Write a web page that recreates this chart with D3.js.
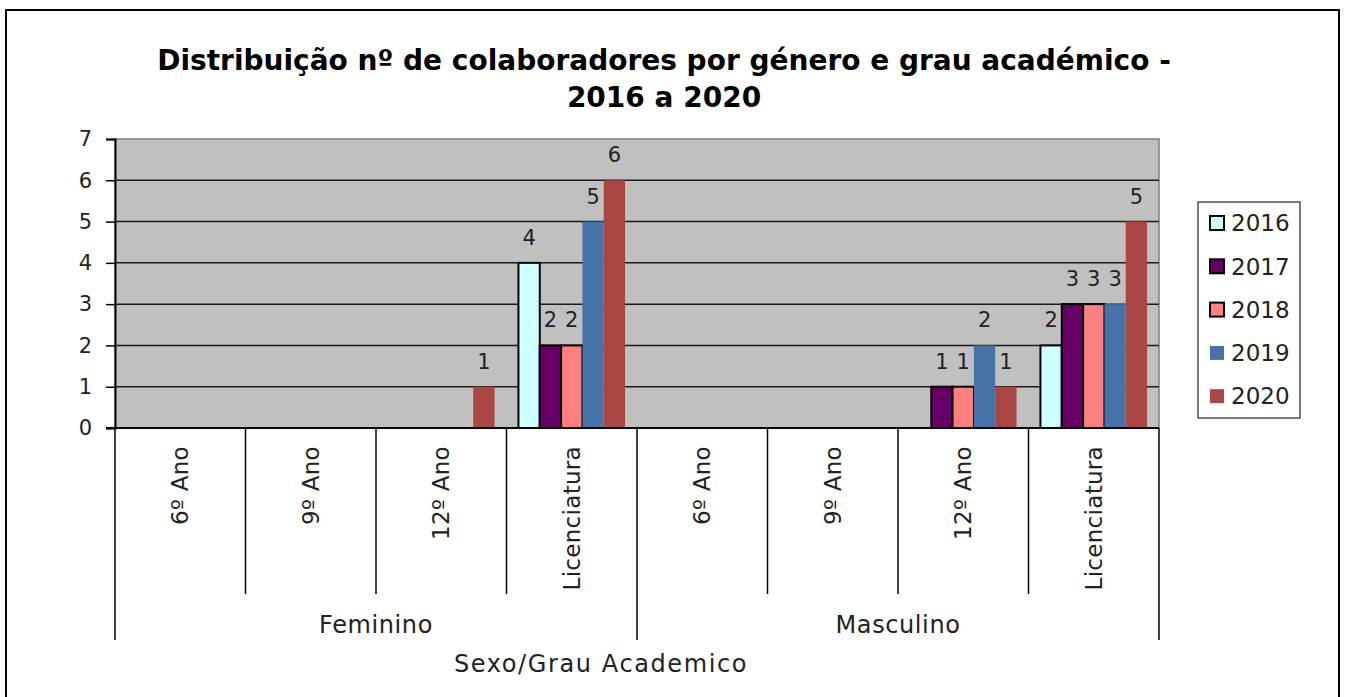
<!DOCTYPE html>
<html>
<head>
<meta charset="utf-8">
<script src="https://cdn.jsdelivr.net/npm/d3@7"></script>
<style>
  body { margin: 0; background: #fff; }
  svg { display: block; font-family: 'Century Gothic', 'DejaVu Sans', sans-serif; }
</style>
</head>
<body>
<div id="chart"></div>
<script>
// data
const grupos = ['Feminino', 'Masculino'];
const graus = ['6º Ano', '9º Ano', '12º Ano', 'Licenciatura'];
const anos = ['2016', '2017', '2018', '2019', '2020'];
const valores2016 = [0, 0, 0, 4, 0, 0, 0, 2];
const valores2017 = [0, 0, 0, 2, 0, 0, 1, 3];
const valores2018 = [0, 0, 0, 2, 0, 0, 1, 3];
const valores2019 = [0, 0, 0, 5, 0, 0, 2, 3];
const valores2020 = [0, 0, 1, 6, 0, 0, 1, 5];
const yTicks = [0, 1, 2, 3, 4, 5, 6, 7];
const cores = ['#ccffff', '#660066', '#ff8080', '#4572a7', '#aa4643'];
const comContorno = ['2016', '2017', '2018'];

function drawChart() {
  const series = [valores2016, valores2017, valores2018, valores2019, valores2020];
  const categorias = [];
  grupos.forEach((g) => graus.forEach((c) => categorias.push(g + '|' + c)));

  const dataset = [];
  categorias.forEach((cat, i) => {
    anos.forEach((ano, j) => {
      dataset.push({ cat: cat, ano: ano, valor: series[j][i] });
    });
  });

  const dimensions = {
    width: 1346,
    height: 697,
    plot: { left: 115, right: 1159, top: 139, bottom: 428 },
  };

  const xScale = d3
    .scaleBand()
    .domain(categorias)
    .range([dimensions.plot.left, dimensions.plot.right]);

  const xSub = d3
    .scaleBand()
    .domain(anos)
    .range([0, xScale.bandwidth()])
    .paddingInner(0)
    .paddingOuter(0.56);

  const yScale = d3
    .scaleLinear()
    .domain([0, 7])
    .range([dimensions.plot.bottom, dimensions.plot.top]);

  const color = d3.scaleOrdinal().domain(anos).range(cores);

  const wrapper = d3
    .select('#chart')
    .append('svg')
    .attr('width', dimensions.width)
    .attr('height', dimensions.height);

  // outer frame
  wrapper
    .append('rect')
    .attr('x', 6)
    .attr('y', 10)
    .attr('width', 1333)
    .attr('height', 700)
    .attr('fill', 'none')
    .attr('stroke', '#000')
    .attr('stroke-width', 2);

  // title
  const title = wrapper
    .append('text')
    .attr('text-anchor', 'middle')
    .style('font-size', '28px')
    .style('font-weight', 'bold');
  title.append('tspan').attr('x', 664).attr('y', 70)
    .text('Distribuição nº de colaboradores por género e grau académico -');
  title.append('tspan').attr('x', 664).attr('y', 107).text('2016 a 2020');

  // plot area
  wrapper
    .append('rect')
    .attr('x', dimensions.plot.left)
    .attr('y', dimensions.plot.top)
    .attr('width', dimensions.plot.right - dimensions.plot.left)
    .attr('height', dimensions.plot.bottom - dimensions.plot.top)
    .attr('fill', '#c0c0c0')
    .attr('stroke', '#808080')
    .attr('stroke-width', 1.5);

  // gridlines
  wrapper
    .append('g')
    .selectAll('line')
    .data(yTicks.filter((t) => t > 0 && t < 7))
    .join('line')
    .attr('x1', dimensions.plot.left)
    .attr('x2', dimensions.plot.right)
    .attr('y1', (d) => yScale(d))
    .attr('y2', (d) => yScale(d))
    .attr('stroke', '#1a1a1a')
    .attr('stroke-width', 1.5);

  // y axis
  const yAxisGenerator = d3
    .axisLeft(yScale)
    .tickValues(yTicks)
    .tickSize(9)
    .tickPadding(14)
    .tickFormat(d3.format('d'));
  const yAxis = wrapper
    .append('g')
    .attr('transform', `translate(${dimensions.plot.left},0)`)
    .call(yAxisGenerator);
  yAxis.select('.domain').attr('stroke', '#000').attr('stroke-width', 2);
  yAxis.selectAll('.tick line').attr('stroke', '#000').attr('stroke-width', 1.5);
  yAxis
    .selectAll('.tick text')
    .style('font-family', "'Century Gothic', 'DejaVu Sans', sans-serif")
    .style('font-size', '21px')
    .attr('fill', '#222');

  // bars
  const bars = wrapper.append('g');
  bars
    .selectAll('rect')
    .data(dataset.filter((d) => d.valor > 0))
    .join('rect')
    .attr('x', (d) => xScale(d.cat) + xSub(d.ano))
    .attr('y', (d) => yScale(d.valor))
    .attr('width', xSub.bandwidth())
    .attr('height', (d) => yScale(0) - yScale(d.valor))
    .attr('fill', (d) => color(d.ano))
    .attr('stroke', (d) => (comContorno.includes(d.ano) ? '#000' : 'none'))
    .attr('stroke-width', 2);

  // data labels
  wrapper
    .append('g')
    .selectAll('text')
    .data(dataset.filter((d) => d.valor > 0))
    .join('text')
    .attr('x', (d) => xScale(d.cat) + xSub(d.ano) + xSub.bandwidth() / 2)
    .attr('y', (d) => yScale(d.valor) - 18)
    .attr('text-anchor', 'middle')
    .style('font-size', '21px')
    .attr('fill', '#222')
    .text((d) => d.valor);

  // x axis line
  wrapper
    .append('line')
    .attr('x1', dimensions.plot.left - 9)
    .attr('x2', dimensions.plot.right)
    .attr('y1', yScale(0))
    .attr('y2', yScale(0))
    .attr('stroke', '#000')
    .attr('stroke-width', 2);

  // category separators
  const limites = categorias.map((c) => xScale(c)).concat([dimensions.plot.right]);
  wrapper
    .append('g')
    .selectAll('line')
    .data(limites)
    .join('line')
    .attr('x1', (d) => d)
    .attr('x2', (d) => d)
    .attr('y1', yScale(0))
    .attr('y2', (d, i) => (i % graus.length === 0 ? 640 : 594))
    .attr('stroke', '#000')
    .attr('stroke-width', 1.5);

  // category labels
  wrapper
    .append('g')
    .selectAll('text')
    .data(categorias)
    .join('text')
    .attr('transform', (d) => `translate(${xScale(d) + xScale.bandwidth() / 2},446) rotate(-90)`)
    .attr('dy', '0.35em')
    .attr('text-anchor', 'end')
    .style('font-size', '23px')
    .style('letter-spacing', '0.3px')
    .attr('fill', '#222')
    .text((d) => d.split('|')[1]);

  // group labels
  wrapper
    .append('g')
    .selectAll('text')
    .data(grupos)
    .join('text')
    .attr('x', (g) => {
      const first = xScale(g + '|' + graus[0]);
      const last = xScale(g + '|' + graus[graus.length - 1]) + xScale.bandwidth();
      return (first + last) / 2;
    })
    .attr('y', 633)
    .attr('text-anchor', 'middle')
    .style('font-size', '24px')
    .style('letter-spacing', '0.6px')
    .attr('fill', '#222')
    .text((g) => g);

  // axis title
  wrapper
    .append('text')
    .attr('x', 601)
    .attr('y', 672)
    .attr('text-anchor', 'middle')
    .style('font-size', '24px')
    .style('letter-spacing', '1.6px')
    .attr('fill', '#222')
    .text('Sexo/Grau Academico');

  // legend
  const legend = wrapper.append('g').attr('transform', 'translate(1198,202)');
  legend
    .append('rect')
    .attr('width', 102)
    .attr('height', 216)
    .attr('fill', '#fff')
    .attr('stroke', '#222')
    .attr('stroke-width', 1.2);
  const items = legend
    .selectAll('g')
    .data(anos)
    .join('g')
    .attr('transform', (d, i) => `translate(12,${21 + i * 43.3})`);
  items
    .append('rect')
    .attr('y', -7)
    .attr('width', 14)
    .attr('height', 14)
    .attr('fill', (d) => color(d))
    .attr('stroke', (d) => (comContorno.includes(d) ? '#000' : 'none'))
    .attr('stroke-width', 2);
  items
    .append('text')
    .attr('x', 21)
    .attr('dy', '0.36em')
    .style('font-size', '23px')
    .attr('fill', '#222')
    .text((d) => d);
}

drawChart();
</script>
</body>
</html>
